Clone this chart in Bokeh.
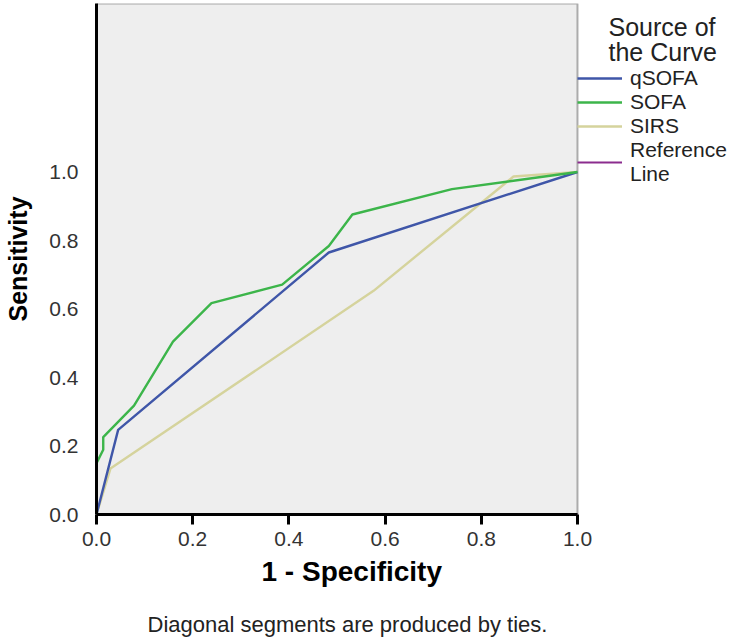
from bokeh.plotting import figure
from bokeh.models import Legend, LegendItem, Label, Title, FixedTicker, Range1d, BoxAnnotation
from bokeh.embed import file_html
from bokeh.resources import INLINE

# ---- data ----
qsofa_x = [0.0, 0.045, 0.483, 1.0]
qsofa_y = [0.0, 0.247, 0.765, 1.0]

sofa_x = [0.0, 0.0, 0.014, 0.014, 0.078, 0.159, 0.239, 0.386, 0.483, 0.532, 0.739, 1.0]
sofa_y = [0.0, 0.150, 0.189, 0.226, 0.318, 0.505, 0.617, 0.671, 0.784, 0.876, 0.950, 1.0]

sirs_x = [0.0, 0.029, 0.576, 0.867, 1.0]
sirs_y = [0.0, 0.134, 0.653, 0.987, 1.0]

ref_x = [0.0, 1.0]
ref_y = [0.0, 0.0]

ticks = [0.0, 0.2, 0.4, 0.6, 0.8, 1.0]
series_names = ["qSOFA", "SOFA", "SIRS", "Reference\nLine"]
legend_title = "Source of\nthe Curve"
x_title = "1 - Specificity"
y_title = "Sensitivity"
footnote = "Diagonal segments are produced by ties."

FONT = "Liberation Sans"

X_END = 653 / 481
Y_END = 514 / 344.5

p = figure(width=749, height=641, output_backend="svg", toolbar_location=None,
           x_range=Range1d(0, X_END), y_range=Range1d(0, Y_END),
           min_border_left=96, min_border_right=0, min_border_top=3, min_border_bottom=124)
p.grid.visible = False
p.background_fill_color = "white"
p.border_fill_color = "white"
p.outline_line_color = None

# plot area box (gray panel with black border)
p.add_layout(BoxAnnotation(left=0, right=1.0, bottom=0, top=Y_END, fill_color="#eeeeee",
                           fill_alpha=1.0, line_color="black", line_width=2, level="underlay"))

c_q = "#3f56a8"
c_s = "#3cb54a"
c_r = "#d5d39c"
c_ref = "#8b2c8e"

r_ref = p.line(ref_x, ref_y, color=c_ref, line_width=2)
r_r = p.line(sirs_x, sirs_y, color=c_r, line_width=2.4)
r_q = p.line(qsofa_x, qsofa_y, color=c_q, line_width=2.4)
r_s = p.line(sofa_x, sofa_y, color=c_s, line_width=2.4)

# axes
xa = p.xaxis[0]
xa.ticker = FixedTicker(ticks=ticks)
xa.bounds = (0, 1.0)
xa.major_label_overrides = {t: f"{t:.1f}" for t in ticks}
xa.axis_line_width = 3
xa.axis_line_color = "black"
xa.major_tick_out = 10
xa.major_tick_in = 0
xa.major_tick_line_width = 3
xa.minor_tick_line_color = None
xa.major_label_text_font = FONT
xa.major_label_text_font_size = "21px"
xa.major_label_text_color = "#333333"
xa.major_label_standoff = 7

ya = p.yaxis[0]
ya.ticker = FixedTicker(ticks=ticks)
ya.major_label_overrides = {t: f"{t:.1f}" for t in ticks}
ya.axis_line_width = 3
ya.axis_line_color = "black"
ya.major_tick_out = 0
ya.major_tick_in = 0
ya.minor_tick_line_color = None
ya.major_label_text_font = FONT
ya.major_label_text_font_size = "21px"
ya.major_label_text_color = "#333333"
ya.major_label_standoff = 18
ya.axis_label = y_title
ya.axis_label_text_font = FONT
ya.axis_label_text_font_style = "bold"
ya.axis_label_text_font_size = "25px"
ya.axis_label_text_color = "black"
ya.axis_label_standoff = 14

# legend
items = [LegendItem(label=n, renderers=[r]) for n, r in zip(series_names, [r_q, r_s, r_r, r_ref])]
leg = Legend(items=items, location=(481, 328), border_line_color=None,
             background_fill_alpha=0, padding=0, margin=0, spacing=0,
             glyph_width=45, glyph_height=22, label_standoff=8,
             label_text_font=FONT, label_text_font_size="21px", label_text_color="#222222",
             label_height=22, label_text_line_height=0.75)
p.add_layout(leg, "center")

p.add_layout(Label(x=(608 - 96) / 481, y=(516.7 - 12) / 344.5, text=legend_title, text_font=FONT,
                   text_font_size="25px", text_color="#222222", text_baseline="top",
                   text_line_height=0.92))

# x-axis title and footnote (below the axis)
p.add_layout(Title(text=x_title, align="left", offset=165, text_font=FONT, text_font_size="28px",
                   text_font_style="bold", text_color="black"), "below")
p.add_layout(Title(text=" ", text_font_size="1px"), "below")
p.add_layout(Title(text=footnote, align="left", offset=51, text_font=FONT, text_font_size="22px",
                   text_font_style="normal", text_color="#222222"), "below")

open("out.html", "w").write(file_html(p, INLINE))
